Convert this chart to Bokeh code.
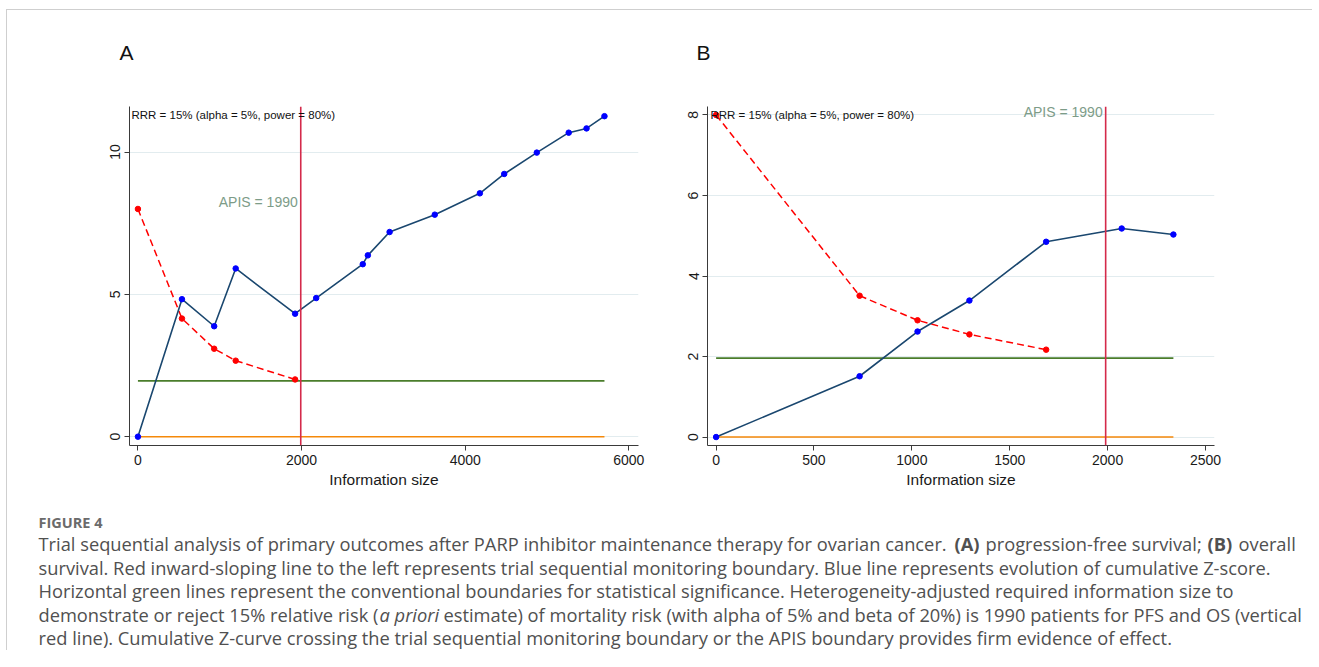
from bokeh.plotting import figure
from bokeh.models import Range1d, FixedTicker, Span, Label
from bokeh.layouts import column, row
from bokeh.embed import file_html
from bokeh.resources import INLINE

# ---------------- data ----------------
APIS = 1990
Z_CONV = 1.96

a_info = [0, 538, 932, 1195, 1921, 2179, 2748, 2810, 3076, 3628, 4179, 4477, 4875, 5265, 5483, 5702]
a_z = [0, 4.83, 3.88, 5.91, 4.32, 4.87, 6.06, 6.37, 7.19, 7.80, 8.55, 9.23, 9.98, 10.68, 10.83, 11.26]
a_bound_info = [0, 538, 932, 1195, 1921]
a_bound = [8.0, 4.15, 3.09, 2.67, 2.01]
a_xticks = [0, 2000, 4000, 6000]
a_yticks = [0, 5, 10]

b_info = [0, 733, 1029, 1294, 1686, 2072, 2336]
b_z = [0, 1.51, 2.62, 3.39, 4.85, 5.18, 5.03]
b_bound_info = [0, 733, 1029, 1294, 1686]
b_bound = [8.0, 3.51, 2.90, 2.55, 2.17]
b_xticks = [0, 500, 1000, 1500, 2000, 2500]
b_yticks = [0, 2, 4, 6, 8]

panel_letters = ["A", "B"]
rrr_text = "RRR = 15% (alpha = 5%, power = 80%)"
apis_text = "APIS = 1990"
x_title = "Information size"

caption_head = "FIGURE 4"
cap_l1a = "Trial sequential analysis of primary outcomes after PARP inhibitor maintenance therapy for ovarian cancer."
cap_l1b = "(A)"
cap_l1c = "progression-free survival;"
cap_l1d = "(B)"
cap_l1e = "overall"
cap_l2 = "survival. Red inward-sloping line to the left represents trial sequential monitoring boundary. Blue line represents evolution of cumulative Z-score."
cap_l3 = "Horizontal green lines represent the conventional boundaries for statistical significance. Heterogeneity-adjusted required information size to"
cap_l4a = "demonstrate or reject 15% relative risk ("
cap_l4b = "a priori"
cap_l4c = "estimate) of mortality risk (with alpha of 5% and beta of 20%) is 1990 patients for PFS and OS (vertical"
cap_l5 = "red line). Cumulative Z-curve crossing the trial sequential monitoring boundary or the APIS boundary provides firm evidence of effect."

# ---------------- style ----------------
FONT = "Liberation Sans"
NAVY = "#1a476f"
BLUE = "#0000ff"
RED = "#ff0000"
VRED = "#d42a4a"
GREEN = "#4a7d2b"
ORANGE = "#f5890a"
GRID = "#e2ecef"
AXIS = "#3a3a3a"
APIS_COL = "#7d9c88"

W_A, W_B = 646, 659
PANEL_H = 420


def blank(width, height):
    f = figure(width=width, height=height, x_range=Range1d(0, width), y_range=Range1d(height, 0),
               x_axis_type=None, y_axis_type=None, output_backend="svg", toolbar_location=None,
               min_border=0)
    f.outline_line_color = None
    f.grid.visible = False
    return f


def panel(info, z, binfo, bnd, xticks, yticks, xr, yr, width,
          bl, br, rrr_dx, rrr_y, apis_y):
    p = figure(width=width, height=PANEL_H, x_range=Range1d(*xr), y_range=Range1d(*yr),
               output_backend="svg", toolbar_location=None,
               min_border_left=bl, min_border_right=br,
               min_border_top=26, min_border_bottom=55)
    p.outline_line_color = None
    p.background_fill_color = "white"
    p.border_fill_color = "white"
    p.xgrid.visible = False
    p.ygrid.ticker = FixedTicker(ticks=yticks)
    p.ygrid.grid_line_color = GRID
    p.ygrid.grid_line_width = 1

    p.xaxis.ticker = FixedTicker(ticks=xticks)
    p.yaxis.ticker = FixedTicker(ticks=yticks)
    for ax in (p.xaxis, p.yaxis):
        ax.axis_line_color = AXIS
        ax.major_tick_line_color = AXIS
        ax.minor_tick_line_color = None
        ax.major_tick_out = 5
        ax.major_tick_in = 0
        ax.major_label_text_font = FONT
        ax.major_label_text_font_size = "14px"
        ax.major_label_text_color = "#1a1a1a"
        ax.major_label_standoff = 4
    p.yaxis.major_label_orientation = "vertical"
    p.xaxis.axis_label = x_title
    p.xaxis.axis_label_text_font = FONT
    p.xaxis.axis_label_text_font_size = "15.5px"
    p.xaxis.axis_label_text_font_style = "normal"
    p.xaxis.axis_label_text_color = "#1a1a1a"
    p.xaxis.axis_label_standoff = 3

    # horizontal reference lines
    p.line([0, info[-1]], [0, 0], line_color=ORANGE, line_width=1.6)
    p.line([0, info[-1]], [Z_CONV, Z_CONV], line_color=GREEN, line_width=1.6)

    # monitoring boundary
    p.line(binfo, bnd, line_color=RED, line_width=1.5, line_dash="7 4")
    p.scatter(binfo, bnd, size=5.5, fill_color=RED, line_color=RED)

    # cumulative Z curve
    p.line(info, z, line_color=NAVY, line_width=1.6)
    p.scatter(info, z, size=5.5, fill_color=BLUE, line_color=BLUE)

    p.add_layout(Span(location=APIS, dimension="height", line_color=VRED, line_width=1.6))

    p.add_layout(Label(x=rrr_dx, y=rrr_y, x_units="screen", text=rrr_text,
                       text_font=FONT, text_font_size="11.5px", text_color="#111111",
                       text_baseline="middle", text_align="left"))
    p.add_layout(Label(x=APIS, y=apis_y, x_offset=-3, text=apis_text,
                       text_font=FONT, text_font_size="14px", text_color=APIS_COL,
                       text_baseline="middle", text_align="right"))
    return p


# ---------------- header with panel letters ----------------
header = blank(W_A + W_B, 70)
for lx, letter in zip([112, 689], panel_letters):
    header.add_layout(Label(x=lx, y=42, text=letter, text_font=FONT, text_font_size="21px",
                            text_color="#111111", text_baseline="middle", text_align="left"))

pa = panel(a_info, a_z, a_bound_info, a_bound, a_xticks, a_yticks,
           (-103, 6118), (-0.31, 11.6), W_A, 122, 15, 2, 11.3, 8.24)
pb = panel(b_info, b_z, b_bound_info, b_bound, b_xticks, b_yticks,
           (-44, 2546), (-0.21, 8.21), W_B, 54, 98, 3, 8.0, 8.08)

# ---------------- caption ----------------
cap = blank(W_A + W_B, 150)
CFONT = "Open Sans"
CCOL = "#505050"
CS = "18.3px"


def ctext(x, y, t, style="normal", size=CS, color=CCOL):
    cap.add_layout(Label(x=x, y=y, text=t, text_font=CFONT, text_font_size=size,
                         text_font_style=style, text_color=color,
                         text_baseline="middle", text_align="left"))


ctext(31, 22, caption_head, style="bold", size="14.5px", color="#6b6b6b")
ctext(31, 43, cap_l1a)
ctext(947, 43, cap_l1b, style="bold")
ctext(978, 43, cap_l1c)
ctext(1200, 43, cap_l1d, style="bold")
ctext(1231, 43, cap_l1e)
ctext(31, 66.5, cap_l2)
ctext(31, 90, cap_l3)
ctext(31, 113.5, cap_l4a)
ctext(372, 113.5, cap_l4b, style="italic")
ctext(436, 113.5, cap_l4c)
ctext(31, 137, cap_l5)

layout = column(header, row(pa, pb), cap, margin=(9, 0, 0, 6),
                styles={"border-top": "1px solid #cfcfcf", "border-left": "1px solid #cfcfcf"})

open("out.html", "w").write(file_html(layout, INLINE))
